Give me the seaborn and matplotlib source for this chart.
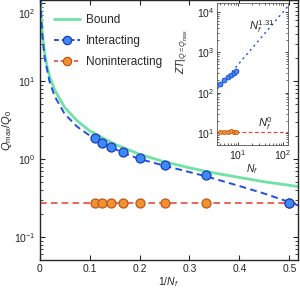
import numpy as np
import pandas as pd
import matplotlib
matplotlib.use("Agg")
import matplotlib.pyplot as plt
import matplotlib.transforms as mtransforms
from matplotlib.lines import Line2D
import seaborn as sns

# main panel data
NF = [9, 8, 7, 6, 5, 4, 3, 2]
Q_INTERACTING = [1.86, 1.62, 1.44, 1.22, 1.02, 0.84, 0.62, 0.27]
Q_NONINTERACTING = [0.275, 0.275, 0.275, 0.275, 0.275, 0.275, 0.275, 0.275]

BOUND_X = [0.002, 0.003, 0.004, 0.005, 0.007, 0.01, 0.015, 0.02, 0.03, 0.05, 0.075,
           0.1, 0.15, 0.2, 0.25, 0.3, 0.35, 0.4, 0.45, 0.5, 0.52]
BOUND_Q = [115, 77, 58, 46, 33, 23, 15.3, 11.5, 7.7, 4.6, 3.1,
           2.3, 1.55, 1.15, 0.92, 0.77, 0.66, 0.58, 0.51, 0.46, 0.44]

FIT_X = [0.002, 0.003, 0.005, 0.01, 0.02, 0.03, 0.05, 0.075, 0.1, 0.111, 0.125, 0.143,
         0.167, 0.2, 0.25, 0.333, 0.4, 0.45, 0.5, 0.52]
FIT_Q = [110, 72, 42, 20, 9.8, 6.4, 3.8, 2.6, 2.0, 1.84, 1.62, 1.42,
         1.2, 1.0, 0.82, 0.6, 0.45, 0.36, 0.28, 0.25]

NONINT_LINE_X = [0.0, 0.52]
NONINT_LINE_Q = [0.275, 0.275]

# inset data
NF_INSET = [4, 5, 6, 7, 8, 9]
ZT_INTERACTING = [160, 205, 245, 280, 315, 350]
ZT_NONINTERACTING = [10.3, 10.6, 10.8, 11.3, 10.5, 10.4]
INSET_FIT_NF = [3.5, 130]
INSET_FIT_ZT = [125, 14000]
INSET_FLAT_ZT = [10.5, 10.5]

GREEN = "#6fe3a3"
BLUE_LINE = "#1f4fe6"
BLUE_FACE = "#3d8af2"
BLUE_EDGE = "#1a3cc4"
RED_LINE = "#e84b3c"
ORANGE_FACE = "#f2922e"
ORANGE_EDGE = "#c0561c"

sns.set_style("ticks")
plt.rcParams["font.family"] = ["Liberation Sans", "DejaVu Sans"]
plt.rcParams["mathtext.fontset"] = "custom"
plt.rcParams["mathtext.rm"] = "Liberation Sans"
plt.rcParams["mathtext.it"] = "Liberation Sans:italic"
plt.rcParams["axes.linewidth"] = 1.0

main_df = pd.DataFrame({"Nf": NF, "Interacting": Q_INTERACTING, "Noninteracting": Q_NONINTERACTING})
main_df["inv"] = 1.0 / main_df["Nf"]
bound_df = pd.DataFrame({"x": BOUND_X, "q": BOUND_Q})
fit_df = pd.DataFrame({"x": FIT_X, "q": FIT_Q})
flat_df = pd.DataFrame({"x": NONINT_LINE_X, "q": NONINT_LINE_Q})

fig = plt.figure(figsize=(3.0, 2.92), dpi=100)
ax = fig.add_axes([0.132, 0.1096, 0.861, 0.8887])

sns.lineplot(ax=ax, data=flat_df, x="x", y="q", color=RED_LINE, lw=1.2)
ax.lines[-1].set_dashes((4, 2.5))
sns.lineplot(ax=ax, data=bound_df, x="x", y="q", color=GREEN, lw=2.0)
sns.lineplot(ax=ax, data=fit_df, x="x", y="q", color=BLUE_LINE, lw=1.4)
ax.lines[-1].set_dashes((3.5, 2.2))
sns.scatterplot(ax=ax, data=main_df, x="inv", y="Noninteracting", s=42, color=ORANGE_FACE,
                edgecolor=ORANGE_EDGE, linewidth=0.9, zorder=4)
sns.scatterplot(ax=ax, data=main_df, x="inv", y="Interacting", s=42, color=BLUE_FACE,
                edgecolor=BLUE_EDGE, linewidth=0.9, zorder=5)

ax.set_yscale("log")
ax.set_xlim(0, 0.517)
ax.set_ylim(0.0507, 107.7)
ax.set_xticks([0, 0.1, 0.2, 0.3, 0.4, 0.5])
ax.set_xticklabels(["0", "0.1", "0.2", "0.3", "0.4", "0.5"])
ax.set_yticks([0.1, 1, 10, 100])
ax.tick_params(which="both", direction="in", top=True, right=True, labelsize=7.5, pad=3)
ax.tick_params(which="major", length=3.5, width=0.8)
ax.tick_params(which="minor", length=2, width=0.6)
ax.set_xlabel("$1/N_f$", fontsize=7.5, labelpad=1)
ax.set_ylabel("$Q_{\\mathrm{max}}/Q_0$", fontsize=8)
ax.yaxis.set_label_coords(-0.098, 0.5)

# push the top tick label down so it stays inside the figure
top_tick = ax.yaxis.get_major_ticks()[3]
top_tick.label1.set_transform(top_tick.label1.get_transform()
                              + mtransforms.ScaledTranslation(0, -0.10, fig.dpi_scale_trans))

handles = [
    Line2D([0], [0], color=GREEN, lw=2.0),
    Line2D([0], [0], color=BLUE_LINE, lw=1.4, dashes=(2.5, 1.5), marker="o", ms=6,
           mfc=BLUE_FACE, mec=BLUE_EDGE, mew=0.9),
    Line2D([0], [0], color=RED_LINE, lw=1.2, dashes=(2.5, 1.5), marker="o", ms=6,
           mfc=ORANGE_FACE, mec=ORANGE_EDGE, mew=0.9),
]
ax.legend(handles, ["Bound", "Interacting", "Noninteracting"], loc="upper left",
          bbox_to_anchor=(0.03, 0.975), frameon=False, fontsize=8.5, handlelength=2.2,
          handletextpad=0.5, labelspacing=0.75, borderaxespad=0.2)

# inset
axi = fig.add_axes([0.723, 0.503, 0.237, 0.487])
axi.set_facecolor("white")
inset_df = pd.DataFrame({"Nf": NF_INSET, "int": ZT_INTERACTING, "non": ZT_NONINTERACTING})
ifit_df = pd.DataFrame({"Nf": INSET_FIT_NF, "zt": INSET_FIT_ZT, "flat": INSET_FLAT_ZT})
sns.lineplot(ax=axi, data=ifit_df, x="Nf", y="zt", color=BLUE_LINE, lw=1.0)
axi.lines[-1].set_dashes((1.5, 2.5))
sns.lineplot(ax=axi, data=ifit_df, x="Nf", y="flat", color=RED_LINE, lw=0.9)
axi.lines[-1].set_dashes((3, 2))
sns.scatterplot(ax=axi, data=inset_df, x="Nf", y="non", s=10, color=ORANGE_FACE,
                edgecolor=ORANGE_EDGE, linewidth=0.5, zorder=4)
sns.scatterplot(ax=axi, data=inset_df, x="Nf", y="int", s=13, color=BLUE_FACE,
                edgecolor=BLUE_EDGE, linewidth=0.5, zorder=5)
axi.set_xscale("log")
axi.set_yscale("log")
axi.set_xlim(3.4, 129)
axi.set_ylim(5.0, 16700)
axi.set_xticks([10, 100])
axi.set_yticks([10, 100, 1000, 10000])
axi.tick_params(which="both", direction="in", top=True, right=True, labelsize=7.5, pad=2)
axi.tick_params(which="major", length=2.5, width=0.6)
axi.tick_params(which="minor", length=1.5, width=0.5)
for s in axi.spines.values():
    s.set_linewidth(0.6)
    s.set_color("#555555")
axi.set_xlabel("$N_f$", fontsize=7.5, labelpad=0)
axi.set_ylabel("$ZT|_{Q=Q_{\\mathrm{max}}}$", fontsize=7.5)
axi.yaxis.set_label_coords(-0.36, 0.66)
axi.text(33, 4300, "$N_f^{1.31}$", fontsize=8, ha="center", va="center")
axi.text(41, 17.5, "$N_f^{0}$", fontsize=8, ha="center", va="center")

fig.savefig("out.png", dpi=100)
